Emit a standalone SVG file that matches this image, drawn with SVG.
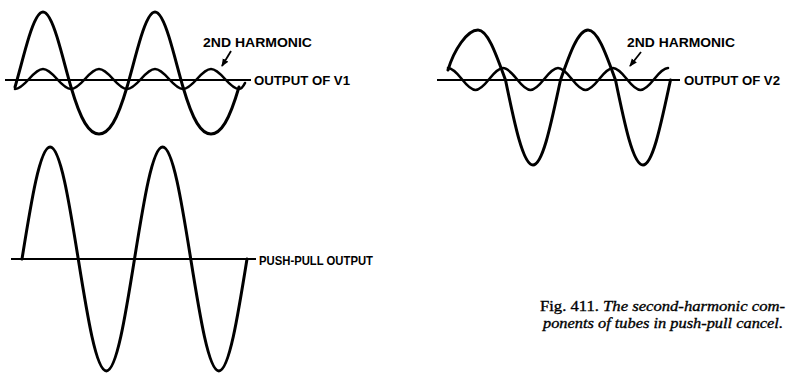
<svg xmlns="http://www.w3.org/2000/svg" width="788" height="374" viewBox="0 0 788 374">
<style>
.wave{fill:none;stroke:#000;stroke-width:3;stroke-linecap:round;stroke-linejoin:round}
.harm{fill:none;stroke:#000;stroke-width:2.6;stroke-linecap:round;stroke-linejoin:round}
.axis{stroke:#000;stroke-width:1.8;fill:none}
.lbl{font-family:"Liberation Sans",Arial,sans-serif;font-weight:bold;font-size:13.5px;fill:#000}
.cap{font-family:"Liberation Serif","Times New Roman",serif;font-size:15px;fill:#000;stroke:#000;stroke-width:0.35}
.ptr{stroke:#000;stroke-width:1.8;fill:none}
</style>
<defs>
<marker id="ah" markerWidth="8" markerHeight="8" refX="7" refY="4" orient="auto" markerUnits="userSpaceOnUse">
<path d="M0,0.8 L8,4 L0,7.2 Z" fill="#000"/>
</marker>
</defs>
<rect width="788" height="374" fill="#fff"/>
<g id="v1-output">
<line class="axis" x1="5" y1="80" x2="251" y2="80"/>
<path class="wave" d="M15,87 c4.67,-15.97 9.33,-35.17 14,-50.13 c4.67,-14.96 9.33,-24.87 14,-24.87 c4.67,0 9.33,9.91 14,24.87 c4.67,14.96 9.33,34.16 14,50.13 c4.67,15.97 9.33,28.5 14,36.13 c4.67,7.63 9.33,10.87 14,10.87 c4.67,0 9.33,-3.24 14,-10.87 c4.67,-7.63 9.33,-20.16 14,-36.13 c4.67,-15.97 9.33,-35.17 14,-50.13 c4.67,-14.96 9.33,-24.87 14,-24.87 c4.67,0 9.33,9.91 14,24.87 c4.67,14.96 9.33,34.16 14,50.13 c4.67,15.97 9.33,28.5 14,36.13 c4.67,7.63 9.33,10.87 14,10.87 c4.67,0 9.33,-3.24 14,-10.87 c4.67,-7.63 9.33,-20.16 14,-36.13"/>
<path class="harm" d="M15,89 c4.67,0 9.33,-4.76 14,-10 c4.67,-5.24 9.33,-10 14,-10 c4.67,0 9.33,4.76 14,10 c4.67,5.24 9.33,10 14,10 c4.67,0 9.33,-4.76 14,-10 c4.67,-5.24 9.33,-10 14,-10 c4.67,0 9.33,4.76 14,10 c4.67,5.24 9.33,10 14,10 c4.67,0 9.33,-4.76 14,-10 c4.67,-5.24 9.33,-10 14,-10 c4.67,0 9.33,4.76 14,10 c4.67,5.24 9.33,10 14,10 c4.67,0 9.33,-4.76 14,-10 c4.67,-5.24 9.33,-10 14,-10 c4.67,0 9.33,4.76 14,10 c4.67,5.24 9.33,10 14,10 c2.5,0 4.5,-3 6,-6"/>
<text class="lbl" x="203" y="47" textLength="109" lengthAdjust="spacingAndGlyphs">2ND HARMONIC</text>
<text class="lbl" x="254" y="85" textLength="96" lengthAdjust="spacingAndGlyphs">OUTPUT OF V1</text>
</g>
<g id="v2-output">
<line class="axis" x1="437" y1="80" x2="680" y2="80"/>
<path class="wave" d="M448,70 c6,-20 19,-40 30,-40 c9.95,0 18.53,25.61 27.5,50 c8.97,43.55 17.55,85 27.5,85 c9.95,0 18.53,-43.55 27.5,-85 c8.97,-25.61 17.55,-50 27.5,-50 c9.95,0 18.53,25.61 27.5,50 c8.97,43.55 17.55,85 27.5,85 c9.95,0 18.53,-43.55 27.5,-85"/>
<path class="harm" d="M448,68 c4.58,0 9.17,5.24 13.75,11 c4.58,5.76 9.17,11 13.75,11 c4.58,0 9.17,-5.24 13.75,-11 c4.58,-5.76 9.17,-11 13.75,-11 c4.58,0 9.17,5.24 13.75,11 c4.58,5.76 9.17,11 13.75,11 c4.58,0 9.17,-5.24 13.75,-11 c4.58,-5.76 9.17,-11 13.75,-11 c4.58,0 9.17,5.24 13.75,11 c4.58,5.76 9.17,11 13.75,11 c4.58,0 9.17,-5.24 13.75,-11 c4.58,-5.76 9.17,-11 13.75,-11 c4.58,0 9.17,5.24 13.75,11 c4.58,5.76 9.17,11 13.75,11 c4.58,0 9.17,-5.24 13.75,-11 c4.58,-5.76 9.17,-11 13.75,-11"/>
<text class="lbl" x="627" y="47" textLength="108" lengthAdjust="spacingAndGlyphs">2ND HARMONIC</text>
<text class="lbl" x="684" y="85" textLength="96" lengthAdjust="spacingAndGlyphs">OUTPUT OF V2</text>
</g>
<g id="push-pull-output">
<line class="axis" x1="11" y1="259" x2="256" y2="259"/>
<path class="wave" d="M22,259 c9.17,-57.38 17.95,-112 28.125,-112 c10.18,0 18.96,54.62 28.125,112 c9.17,57.38 17.95,112 28.125,112 c10.18,0 18.96,-54.62 28.125,-112 c9.17,-57.38 17.95,-112 28.125,-112 c10.18,0 18.96,54.62 28.125,112 c9.17,57.38 17.95,112 28.125,112 c10.18,0 18.96,-54.62 28.125,-112"/>
<text class="lbl" x="259" y="265" textLength="114" lengthAdjust="spacingAndGlyphs">PUSH-PULL OUTPUT</text>
</g>
<g id="connectors">
<line class="ptr" x1="231" y1="51" x2="222" y2="66" marker-end="url(#ah)"/>
<line class="ptr" x1="641" y1="52" x2="630" y2="66" marker-end="url(#ah)"/>
</g>
<g id="caption">
<text class="cap" x="540" y="311" textLength="245" lengthAdjust="spacingAndGlyphs">Fig. 411. <tspan font-style="italic">The second-harmonic com-</tspan></text>
<text class="cap" x="543" y="328" textLength="240" lengthAdjust="spacingAndGlyphs" font-style="italic">ponents of tubes in push-pull cancel.</text>
</g>
</svg>
